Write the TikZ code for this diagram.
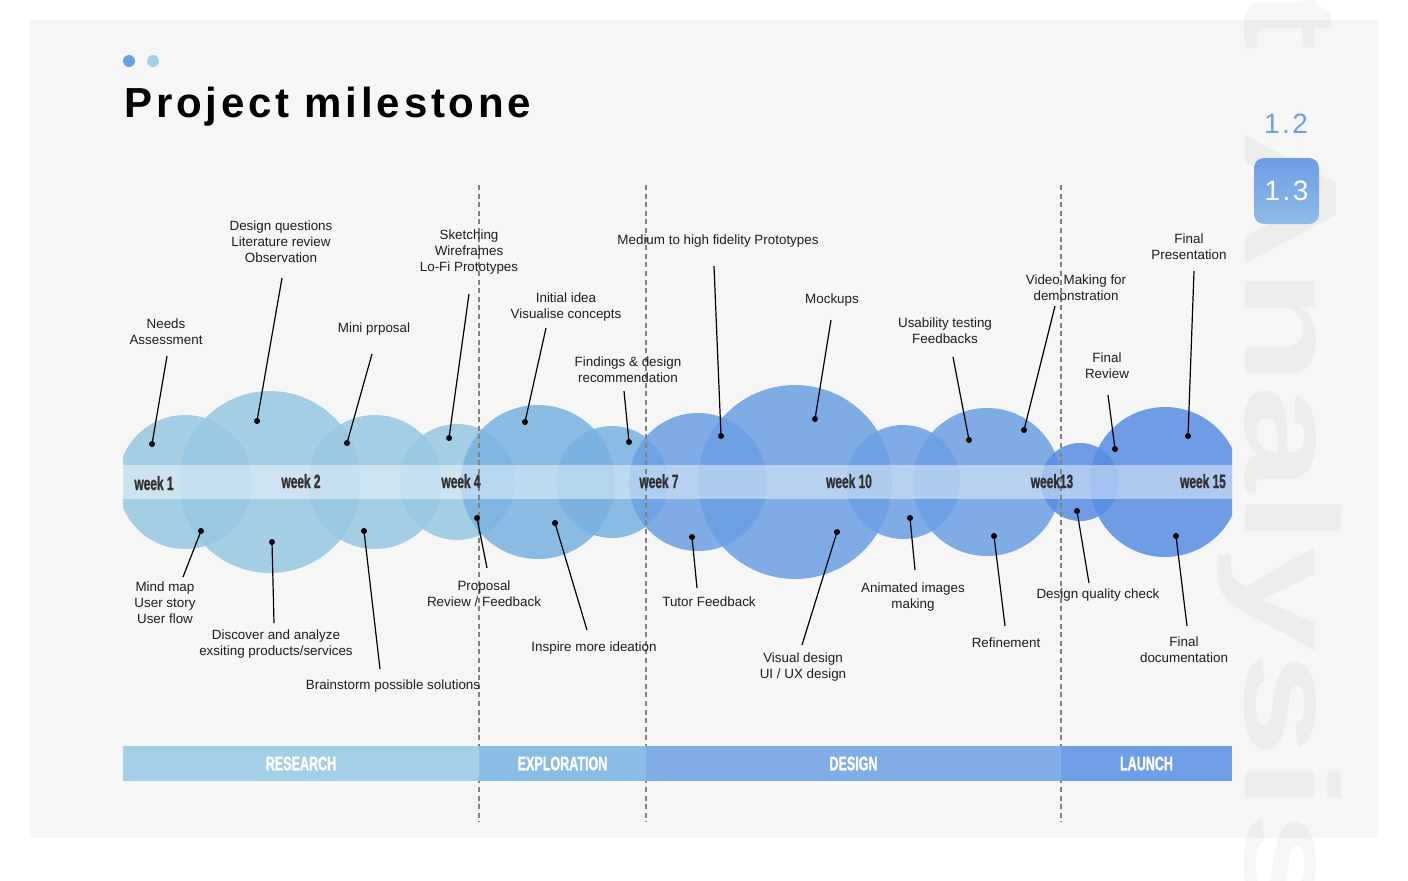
\documentclass[tikz,border=0pt]{standalone}
\usepackage{fontspec}
\usepackage{graphicx}
\setmainfont{Liberation Sans}
\newfontfamily\headfont{Liberation Sans}[LetterSpace=9]
\newfontfamily\heavyfont{Liberation Sans}[BoldFeatures={FakeBold=1.6}]
\usetikzlibrary{positioning}
\definecolor{paper}{RGB}{246,246,246}
\definecolor{research}{RGB}{163,208,230}
\definecolor{exploration}{RGB}{139,188,227}
\definecolor{design}{RGB}{128,173,230}
\definecolor{launch}{RGB}{111,157,230}
\definecolor{researchC}{RGB}{150,200,226}
\definecolor{explorationC}{RGB}{120,178,224}
\definecolor{designC}{RGB}{107,160,227}
\definecolor{launchC}{RGB}{87,141,227}
\definecolor{ink}{RGB}{30,30,30}
\definecolor{weekink}{RGB}{50,50,50}
\definecolor{rulegray}{RGB}{130,130,130}
\newcommand\cond[2]{\scalebox{#1}[1]{#2}}
\tikzset{
  bubble/.style={fill=#1,fill opacity=0.85},
  lbl/.style={font=\fontsize{6.7}{8}\selectfont,text=ink,align=center,inner sep=0pt},
  leader/.style={draw=black,line width=0.6pt},
  pin/.style={circle,fill=black,inner sep=0pt,minimum size=3pt},
  wk/.style={font=\heavyfont\fontsize{9.6}{10}\selectfont\bfseries,text=weekink,inner sep=0pt,anchor=base},
  phase/.style={fill=#1,text=white,font=\heavyfont\fontsize{9.8}{10}\selectfont\bfseries,
    inner sep=0pt,minimum height=17.5pt},
  phase rule/.style={draw=rulegray,line width=0.8pt,dash pattern=on 2.5pt off 1.8pt},
  watermark/.style={rotate=-90,opacity=0.035,inner sep=0pt,
    font=\fontsize{66}{66}\selectfont\bfseries},
}

\begin{document}
\begin{tikzpicture}[x=0.5pt,y=-0.5pt]
  \useasboundingbox (0,0) rectangle (1408,880);
  \fill[white] (0,0) rectangle (1408,880);
  \fill[paper] (30,20) rectangle (1378,838);
  % big faint word on the right
  \node[watermark,anchor=base east] (wmt) at (1245,52) {\cond{1.45}{t}};
  \node[watermark,anchor=base west] (wm) at (1245,130) {\cond{1.45}{Analysis}};
  % section tags
  \node[font=\headfont\fontsize{14}{14}\selectfont,text=launch] (v12) at (1286,124) {1.2};
  \node[minimum width=32.5pt,minimum height=33pt,rounded corners=5pt,top color=launch,
    bottom color=research!60!launch,text=white,font=\headfont\fontsize{14}{14}\selectfont] (v13) at (1286.5,191) {1.3};
  % heading
  \fill[launch] (129,61) circle (6);
  \fill[research] (153,61) circle (6);
  \node[anchor=base west,inner sep=0pt,font=\headfont\fontsize{21}{21}\selectfont\bfseries] (title) at (124,117) {Project milestone};

  % bubbles and week band
  \begin{scope}
    \clip (123,350) rectangle (1232,620);
    \foreach \cx/\r/\c in {185/67/researchC,270/91/researchC,375/67/researchC,457/58/researchC,
      538/77/explorationC,612/56/explorationC,698/69/designC,795/97/designC,903/57/designC,
      987/74/designC,1080/39/launchC,1165/75/launchC}
      \fill[bubble=\c] (\cx,482) circle (\r);
    \fill[white,fill opacity=0.45] (123,465) rectangle (1232,499);
  \end{scope}

  \foreach \x in {479,646,1061}
    \draw[phase rule] (\x,185) -- (\x,822);

  \foreach \t/\x/\y [count=\i] in {week 1/154/490,week 2/301/488,week 4/461/488,week 7/659/488,
    week 10/849/488,week13/1052/488,week 15/1203/488}
    \node[wk] (w\i) at (\x,\y) {\cond{0.62}{\t}};

  % milestones: text / text pos / leader end / dot
  \foreach \t/\lx/\ly/\ex/\ey/\dx/\dy [count=\i] in {
    Needs\\Assessment/166/332/167/356/152/444,
    Design questions\\Literature review\\Observation/281/242/282/278/257/421,
    Mini prposal/374/329/372/354/347/443,
    Sketching\\Wireframes\\Lo-Fi Prototypes/469/252/469/294/449/438,
    Initial idea\\Visualise concepts/566/307/546/328/525/422,
    Findings \& design\\recommendation/628/370/624/391/629/442,
    Medium to high fidelity Prototypes/718/241/714/266/721/436,
    Mockups/832/300/831/320/815/419,
    Usability testing\\Feedbacks/945/331/953/357/969/440,
    Video Making for\\demonstration/1076/288/1055/306/1024/430,
    Final\\Review/1107/366/1108/395/1115/449,
    Final\\Presentation/1189/247/1194/271/1188/436,
    Mind map\\User story\\User flow/165/603/183/577/201/531,
    Discover and analyze\\exsiting products\slash services/276/644/274/623/272/542,
    Brainstorm possible solutions/393/686/380/669/364/531,
    Proposal\\Review \slash{} Feedback/484/594/487/568/477/518,
    Inspire more ideation/594/648/587/630/555/523,
    Tutor Feedback/709/602/697/588/692/537,
    Visual design\\UI \slash{} UX design/803/667/802/645/837/532,
    Animated images\\making/913/597/915/570/910/518,
    Refinement/1006/643/1005/626/994/536,
    Design quality check/1098/595/1089/583/1077/511,
    Final\\documentation/1184/650/1187/626/1176/536}
  {
    \node[lbl] (m\i) at (\lx,\ly) {\t};
    \coordinate (e\i) at (\ex,\ey);
    \node[pin] (d\i) at (\dx,\dy) {};
    \draw[leader] (e\i) -- (d\i.center);
  }

  % phases
  \foreach \n/\a/\b/\c [count=\i] in {RESEARCH/123/479/research,EXPLORATION/479/646/exploration,
    DESIGN/646/1061/design,LAUNCH/1061/1232/launch}
    \node[phase=\c,minimum width={(\b-\a)*0.5pt}] (ph\i) at ({(\a+\b)/2},763.5) {\cond{0.64}{\n}};
\end{tikzpicture}
\end{document}
